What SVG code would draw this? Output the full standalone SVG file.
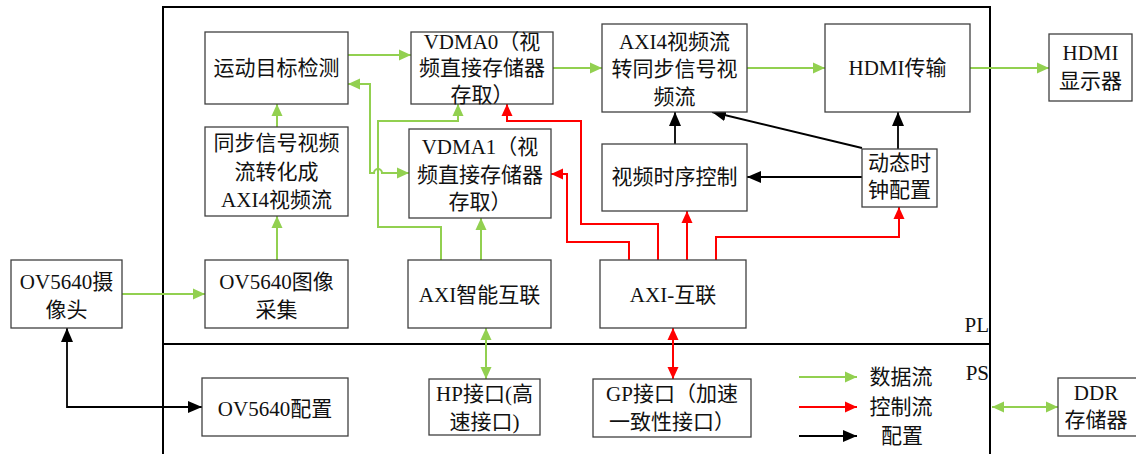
<svg xmlns="http://www.w3.org/2000/svg" width="1136" height="454" viewBox="0 0 1136 454">
<style>
.box{fill:#fff;stroke:#404040;stroke-width:1.3}
.t{font-family:"Liberation Serif","Noto Sans CJK SC",serif;font-size:21px;fill:#111;text-anchor:middle;dominant-baseline:central}
.g{fill:none;stroke:#92D050;stroke-width:2}
.r{fill:none;stroke:#FF0000;stroke-width:2}
.k{fill:none;stroke:#000;stroke-width:1.8}
.frame{fill:none;stroke:#000;stroke-width:2}
</style>
<defs>
<marker id="ag" markerUnits="userSpaceOnUse" viewBox="0 0 12 12" refX="12" refY="6" markerWidth="12" markerHeight="12" orient="auto-start-reverse"><path d="M0,0.5 L12,6 L0,11.5 z" fill="#92D050"/></marker>
<marker id="ar" markerUnits="userSpaceOnUse" viewBox="0 0 12 12" refX="12" refY="6" markerWidth="12" markerHeight="12" orient="auto-start-reverse"><path d="M0,0.5 L12,6 L0,11.5 z" fill="#FF0000"/></marker>
<marker id="ak" markerUnits="userSpaceOnUse" viewBox="0 0 14 12" refX="14" refY="6" markerWidth="14" markerHeight="12" orient="auto-start-reverse"><path d="M0,0 L14,6 L0,12 z" fill="#000"/></marker>
</defs>
<rect width="1136" height="454" fill="#fff"/>
<g id="frame">
<path class="frame" d="M163,460 V7 H990 V460"/>
<line class="frame" x1="163" y1="344" x2="990" y2="344"/>
<text class="t" x="989" y="325" style="text-anchor:end">PL</text>
<text class="t" x="989" y="373" style="text-anchor:end">PS</text>
</g>
<g id="connectors">
<line class="g" x1="348" y1="55" x2="411" y2="55" marker-end="url(#ag)"/>
<line class="g" x1="553" y1="68" x2="602" y2="68" marker-end="url(#ag)"/>
<line class="g" x1="747" y1="68" x2="825" y2="68" marker-end="url(#ag)"/>
<line class="g" x1="970" y1="68" x2="1049" y2="68" marker-end="url(#ag)"/>
<line class="g" x1="277" y1="127" x2="277" y2="104" marker-end="url(#ag)"/>
<line class="g" x1="277" y1="260" x2="277" y2="216" marker-end="url(#ag)"/>
<line class="g" x1="122" y1="294" x2="205" y2="294" marker-end="url(#ag)"/>
<line class="g" x1="481" y1="260" x2="481" y2="218" marker-end="url(#ag)"/>
<path class="g" d="M441,260 V227 H378 V121 H458 V104" marker-end="url(#ag)"/>
<path class="g" d="M348,84 H370 V173 H374 A4,4 0 0 1 382,173 H409" marker-start="url(#ag)" marker-end="url(#ag)"/>
<line class="g" x1="486" y1="328" x2="486" y2="379" marker-start="url(#ag)" marker-end="url(#ag)"/>
<line class="g" x1="992" y1="407" x2="1058" y2="407" marker-start="url(#ag)" marker-end="url(#ag)"/>
<line class="r" x1="673" y1="328" x2="673" y2="379" marker-start="url(#ar)" marker-end="url(#ar)"/>
<path class="r" d="M629,260 V242 H567 V174 H551" marker-end="url(#ar)"/>
<path class="r" d="M658,260 V224 H581 V121 H507 V104" marker-end="url(#ar)"/>
<line class="r" x1="687" y1="260" x2="687" y2="211" marker-end="url(#ar)"/>
<path class="r" d="M716,260 V237 H899 V207" marker-end="url(#ar)"/>
<line class="k" x1="675" y1="144" x2="675" y2="112" marker-end="url(#ak)"/>
<line class="k" x1="862" y1="177" x2="747" y2="177" marker-end="url(#ak)"/>
<line class="k" x1="862" y1="148" x2="712" y2="112" marker-end="url(#ak)"/>
<line class="k" x1="898" y1="149" x2="898" y2="112" marker-end="url(#ak)"/>
<path class="k" d="M67,328 V407 H202" marker-start="url(#ak)" marker-end="url(#ak)"/>
</g>
<g id="legend">
<line class="g" x1="799" y1="377" x2="857" y2="377" marker-end="url(#ag)"/>
<line class="r" x1="799" y1="407" x2="857" y2="407" marker-end="url(#ar)"/>
<line class="k" x1="799" y1="436" x2="857" y2="436" marker-end="url(#ak)"/>
<text class="t" x="901" y="377">数据流</text>
<text class="t" x="901" y="407">控制流</text>
<text class="t" x="902" y="436">配置</text>
</g>
<g id="n_motion"><rect class="box" x="205" y="32" width="143" height="72"/><text class="t" x="276.5" y="68">运动目标检测</text></g>
<g id="n_vdma0"><rect class="box" x="411" y="32" width="142" height="72"/><text class="t" x="482" y="42">VDMA0（视</text><text class="t" x="482" y="68">频直接存储器</text><text class="t" x="482" y="95">存取）</text></g>
<g id="n_sync2axi"><rect class="box" x="205" y="127" width="143" height="89"/><text class="t" x="276.5" y="143">同步信号视频</text><text class="t" x="276.5" y="172">流转化成</text><text class="t" x="276.5" y="200">AXI4视频流</text></g>
<g id="n_vdma1"><rect class="box" x="409" y="129" width="142" height="89"/><text class="t" x="480" y="147">VDMA1（视</text><text class="t" x="480" y="175">频直接存储器</text><text class="t" x="480" y="202">存取）</text></g>
<g id="n_axi2sync"><rect class="box" x="602" y="24" width="145" height="88"/><text class="t" x="674.5" y="42">AXI4视频流</text><text class="t" x="674.5" y="69">转同步信号视</text><text class="t" x="674.5" y="97">频流</text></g>
<g id="n_hdmi"><rect class="box" x="825" y="24" width="145" height="88"/><text class="t" x="897.5" y="68">HDMI传输</text></g>
<g id="n_timing"><rect class="box" x="602" y="144" width="145" height="67"/><text class="t" x="674.5" y="177">视频时序控制</text></g>
<g id="n_clk"><rect class="box" x="862" y="149" width="75" height="58"/><text class="t" x="899.5" y="163">动态时</text><text class="t" x="899.5" y="190">钟配置</text></g>
<g id="n_display"><rect class="box" x="1049" y="34" width="83" height="67"/><text class="t" x="1090.5" y="53">HDMI</text><text class="t" x="1090.5" y="81">显示器</text></g>
<g id="n_cam"><rect class="box" x="11" y="260" width="111" height="68"/><text class="t" x="66.5" y="282">OV5640摄</text><text class="t" x="66.5" y="310">像头</text></g>
<g id="n_capture"><rect class="box" x="205" y="260" width="143" height="68"/><text class="t" x="276.5" y="282">OV5640图像</text><text class="t" x="276.5" y="310">采集</text></g>
<g id="n_axismart"><rect class="box" x="408" y="260" width="143" height="68"/><text class="t" x="479.5" y="295">AXI智能互联</text></g>
<g id="n_axi"><rect class="box" x="600" y="260" width="146" height="68"/><text class="t" x="673" y="295">AXI-互联</text></g>
<g id="n_cfg"><rect class="box" x="202" y="378" width="146" height="58"/><text class="t" x="275" y="409">OV5640配置</text></g>
<g id="n_hp"><rect class="box" x="429" y="379" width="111" height="56"/><text class="t" x="484.5" y="394">HP接口(高</text><text class="t" x="484.5" y="422">速接口)</text></g>
<g id="n_gp"><rect class="box" x="593" y="379" width="158" height="58"/><text class="t" x="672" y="394">GP接口（加速</text><text class="t" x="672" y="422">一致性接口）</text></g>
<g id="n_ddr"><rect class="box" x="1058" y="378" width="84" height="58"/><text class="t" x="1096" y="393">DDR</text><text class="t" x="1096" y="420">存储器</text></g>
</svg>
